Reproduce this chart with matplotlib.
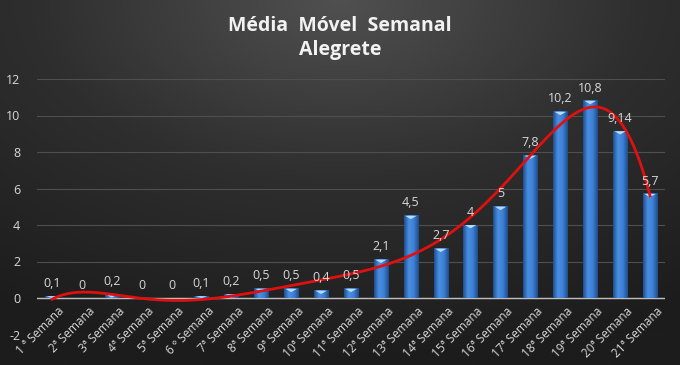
import numpy as np
import matplotlib
matplotlib.use("Agg")
import matplotlib.pyplot as plt
from matplotlib.colors import LinearSegmentedColormap

semanas = ["1 ª Semana", "2ª Semana", "3ª Semana", "4ª Semana", "5ª Semana",
           "6 º Semana", "7ª Semana", "8ª Semana", "9ª Semana", "10ª Semana",
           "11ª Semana", "12ª Semana", "13ª Semana", "14ª Semana", "15ª Semana",
           "16ª Semana", "17ª Semana", "18ª Semana", "19ª Semana", "20ª Semana",
           "21ª Semana"]
media = [0.1, 0, 0.2, 0, 0, 0.1, 0.2, 0.5, 0.5, 0.4, 0.5, 2.1, 4.5, 2.7, 4,
         5, 7.8, 10.2, 10.8, 9.14, 5.7]
rotulos = ["0,1", "0", "0,2", "0", "0", "0,1", "0,2", "0,5", "0,5", "0,4",
           "0,5", "2,1", "4,5", "2,7", "4", "5", "7,8", "10,2", "10,8",
           "9,14", "5,7"]

plt.rcParams['font.family'] = ['Open Sans', 'DejaVu Sans']

fig = plt.figure(figsize=(6.8, 3.65), dpi=100)

# dark background with a lighter glow near the top centre
bg = fig.add_axes([0, 0, 1, 1], zorder=-10)
yy, xx = np.mgrid[0:1:200j, 0:1:360j]
r = np.sqrt(((xx - 0.5) * 1.1) ** 2 + ((yy - 0.0) * 1.0) ** 2)
bg.imshow(r, cmap=LinearSegmentedColormap.from_list("bg", ["#505050", "#2e2e2e", "#1c1c1c"]),
          aspect='auto', extent=[0, 1, 0, 1], origin='upper', vmin=0, vmax=1.0)
bg.axis('off')

ax = fig.add_axes([37 / 680, 30.5 / 365, 628 / 680, 255.5 / 365])
ax.set_facecolor('none')
x = np.arange(len(media))

ax.set_yticks(range(-2, 13, 2))
ax.set_yticklabels([str(v) for v in range(-2, 13, 2)], color='#d9d9d9', fontsize=9)
ax.tick_params(axis='y', length=0, pad=12)
ax.grid(axis='y', color='#4f4f4f', linewidth=0.8)
ax.set_axisbelow(True)
for s in ax.spines.values():
    s.set_visible(False)
ax.axhline(0, color='#bfbfbf', linewidth=1, zorder=2)

w = 0.48
cmap_bar = LinearSegmentedColormap.from_list("bar", ["#1f4f8f", "#4a90e2", "#3d7fd4", "#1d4c8a"])
grad = np.linspace(0, 1, 64).reshape(1, -1)
bars = ax.bar(x, media, width=w, color='#3a7bd0', zorder=3)
for b, v in zip(bars, media):
    if v <= 0:
        continue
    x0 = b.get_x()
    ax.imshow(grad, extent=[x0, x0 + w, 0, v], aspect='auto', cmap=cmap_bar, zorder=3.5)
    cap = min(0.18, v)
    ax.fill([x0 + 0.05, x0 + w - 0.05, x0 + w / 2], [v, v, v - cap],
            color='#b8dcff', zorder=4, linewidth=0)
ax.set_xlim(-0.5, len(media) - 0.5)
ax.set_ylim(-2, 12)

for xi, v, t in zip(x, media, rotulos):
    ax.text(xi, v + 0.35, t, ha='center', va='bottom', color='#d9d9d9', fontsize=9, zorder=6)

# polynomial trendline
coef = np.polyfit(x, media, 6)
xs = np.linspace(0, len(media) - 1, 300)
ax.plot(xs, np.polyval(coef, xs), color='#e01010', linewidth=2, zorder=5)

# category labels sit just below the zero line
ax.set_xticks([])
for xi, s in zip(x, semanas):
    ax.text(xi + 0.2, -0.35, s, rotation=45, ha='right', va='top', rotation_mode='anchor',
            color='#d9d9d9', fontsize=8.5)

fig.text(0.5, 0.928, "Média  Móvel  Semanal", ha='center', va='center', color='#f2f2f2',
         fontsize=14, fontweight='bold')
fig.text(0.5, 0.862, "Alegrete", ha='center', va='center', color='#f2f2f2',
         fontsize=14, fontweight='bold')

fig.savefig("out.png", dpi=100, facecolor='#2a2a2a')
